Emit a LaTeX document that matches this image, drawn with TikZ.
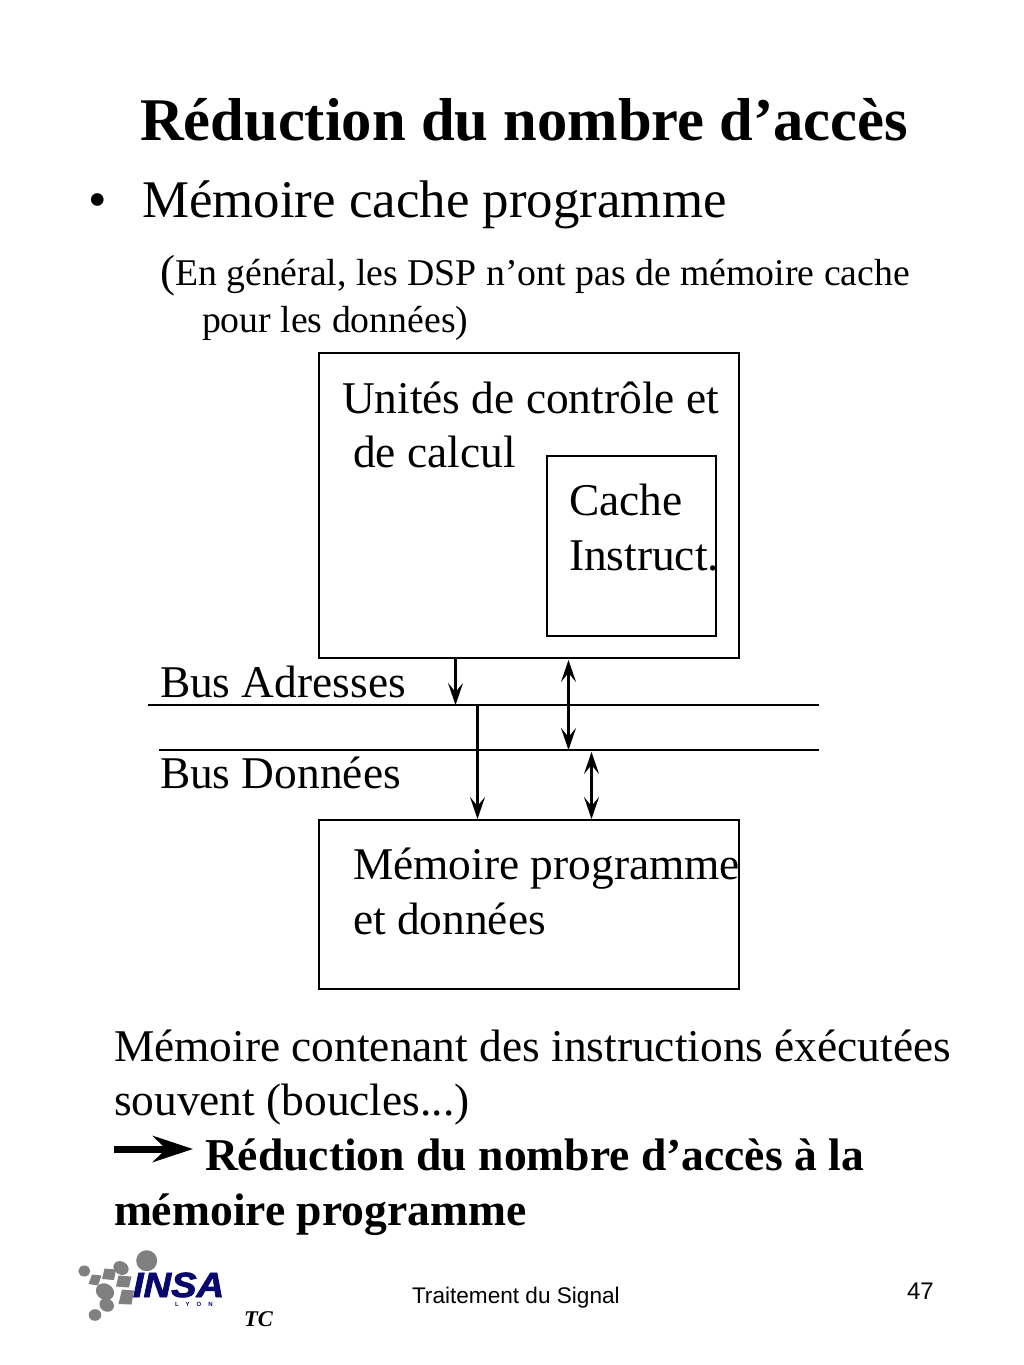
\documentclass[tikz,border=0pt]{standalone}
\usepackage{fontspec}
\setmainfont{Liberation Serif}
\newfontfamily\arialf{Liberation Sans}
\newfontfamily\insaf[FakeBold=2.2]{Liberation Sans}
\usetikzlibrary{arrows.meta}
\newcommand{\fsz}[1]{\fontsize{#1}{#1}\selectfont}
\definecolor{insablue}{RGB}{8,8,110}
\definecolor{insagrey}{RGB}{128,128,128}
\tikzset{
  txt/.style={anchor=base west,inner sep=0pt,outer sep=0pt,font=\fsz{45.4}},
  boxn/.style={draw=black,line width=1.9pt,inner sep=0pt,outer sep=0pt,anchor=north west},
  busline/.style={draw=black,line width=1.9pt},
  conn/.style={draw=black,line width=2.4pt,-{Stealth[length=22pt,width=15pt,inset=9pt]}},
  connb/.style={draw=black,line width=2.4pt,{Stealth[length=22pt,width=15pt,inset=9pt]}-{Stealth[length=22pt,width=15pt,inset=9pt]}},
  grey/.style={fill=insagrey,draw=none},
}
\begin{document}
\begin{tikzpicture}[x=1pt,y=-1pt]
\useasboundingbox (0,0) rectangle (1024,1365);
\node[txt,font=\fsz{60.6}\bfseries] (title) at (140,140) {Réduction du nombre d’accès};
\node[txt,font=\fsz{52.9}] (bul) at (88,217) {•};
\node[txt,font=\fsz{52.9}] (h1) at (142,217) {Mémoire cache programme};
\node[txt,font=\fsz{45}] (par) at (160,286) {(};
\node[txt,font=\fsz{37.75}] (p1) at (175,285) {En général, les DSP n’ont pas de mémoire cache};
\node[txt,font=\fsz{37.75}] (p2) at (202,332) {pour les données)};
% boxes
\node[boxn,minimum width=420pt,minimum height=305pt] (cpu) at (319,353) {};
\node[boxn,minimum width=169pt,minimum height=180pt] (cache) at (547,456) {};
\node[boxn,minimum width=420pt,minimum height=169pt] (mem) at (319,820) {};
\node[txt] (u1) at (342,413) {Unités de contrôle et};
\node[txt] (u2) at (353,467) {de calcul};
\node[txt] (c1) at (569,515) {Cache};
\node[txt] (c2) at (569,570) {Instruct.};
\node[txt] (b1) at (160,697) {Bus Adresses};
\node[txt] (b2) at (160,788) {Bus Données};
\node[txt] (m1) at (353,879) {Mémoire programme};
\node[txt] (m2) at (353,934) {et données};
% buses
\coordinate (aL) at (148,705); \coordinate (aR) at (819,705);
\coordinate (dL) at (159,750); \coordinate (dR) at (819,750);
\draw[busline] (aL) -- (aR);
\draw[busline] (dL) -- (dR);
% connectors
\coordinate (a1s) at (455.5,658); \coordinate (a1e) at (455.5,705);
\coordinate (a2s) at (568.5,660); \coordinate (a2e) at (568.5,750);
\coordinate (a3s) at (477.5,705); \coordinate (a3e) at (477.5,819);
\coordinate (a4s) at (591.5,752); \coordinate (a4e) at (591.5,819);
\draw[conn] (a1s) -- (a1e);
\draw[connb] (a2s) -- (a2e);
\draw[conn] (a3s) -- (a3e);
\draw[connb] (a4s) -- (a4e);
% lower text
\node[txt] (t1) at (114,1061) {Mémoire contenant des instructions éxécutées};
\node[txt] (t2) at (114,1115) {souvent (boucles...)};
\coordinate (arrS) at (114,1149); \coordinate (arrE) at (193,1149);
\draw[line width=7pt,-{Stealth[length=40pt,width=26pt,inset=13pt]}] (arrS) -- (arrE);
\node[txt,font=\fsz{45.6}\bfseries] (t3) at (205,1170) {Réduction du nombre d’accès à la};
\node[txt,font=\fsz{45.6}\bfseries] (t4) at (114,1225) {mémoire programme};
% logo
\fill[grey] (84.3,1271) ellipse (6pt and 5.5pt);
\fill[grey] (146.7,1260.7) circle (10.5pt);
\fill[grey,rotate around={-30:(121,1268)}] (121,1268) ellipse (8pt and 6.5pt);
\fill[grey] (92,1274.5) -- (101.5,1275.5) -- (98,1285.5) -- (88.5,1284) -- cycle;
\fill[grey] (104.5,1268.5) -- (116,1269.5) -- (114,1280) -- (102,1279) -- cycle;
\fill[grey] (118.5,1275.5) -- (131.5,1276.5) -- (129,1287.5) -- (116,1286.5) -- cycle;
\fill[grey,rotate around={-30:(105,1291.7)}] (105,1291.7) ellipse (9.5pt and 8pt);
\fill[grey] (122,1289.5) -- (134,1290.5) -- (131.5,1304.5) -- (118.5,1304) -- cycle;
\fill[grey,rotate around={-30:(106.7,1305)}] (106.7,1305) ellipse (7.5pt and 6.5pt);
\fill[grey] (95,1315) ellipse (6.3pt and 5.8pt);
\node[txt,font=\insaf\fsz{35}\bfseries\itshape,text=insablue,xscale=1.09] (insa) at (133,1297) {INSA};
\node[txt,font=\arialf\fsz{6}\bfseries,text=insablue] (lyon) at (175,1306) {L\hspace{7pt}Y\hspace{7pt}O\hspace{7pt}N};
\node[txt,font=\fsz{22.5}\bfseries\itshape] (tc) at (244,1326) {TC};
\node[txt,font=\arialf\fsz{22.6}] (foot) at (412,1303) {Traitement du Signal};
\node[txt,font=\arialf\fsz{24}] (num) at (907,1299) {47};
\end{tikzpicture}
\end{document}
